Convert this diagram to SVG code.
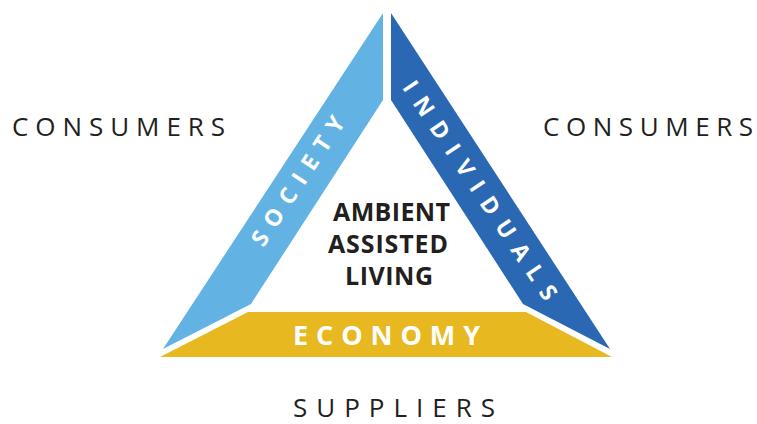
<svg xmlns="http://www.w3.org/2000/svg" width="757" height="424" viewBox="0 0 757 424">
<style>
.lbl{font-family:"Open Sans","Noto Sans","Liberation Sans",sans-serif;font-size:26px;fill:#231f20}
.bold{font-family:"Open Sans","Noto Sans","Liberation Sans",sans-serif;font-weight:bold}
.band{font-size:23px;fill:#ffffff}
.center{font-size:25px;fill:#231f20}
</style>
<rect width="757" height="424" fill="#ffffff"/>
<g id="society">
<polygon points="383,13 383,100 251,304 163,349" fill="#62b3e4"/>
<text class="bold band" transform="translate(298,181) rotate(-56.7)" x="0" y="8" text-anchor="middle" textLength="150" lengthAdjust="spacing">SOCIETY</text>
</g>
<g id="individuals">
<polygon points="391,13 391,100 523,304 610,349" fill="#2a68b3"/>
<text class="bold band" transform="translate(480,190.5) rotate(56.3)" x="0" y="8" text-anchor="middle" textLength="258" lengthAdjust="spacing">INDIVIDUALS</text>
</g>
<g id="economy">
<polygon points="248,312 526,312 612,357 160,357" fill="#e8b820"/>
<text class="bold" x="386.5" y="345" font-size="27" fill="#ffffff" text-anchor="middle" textLength="187" lengthAdjust="spacing">ECONOMY</text>
</g>
<g id="aal">
<text class="bold center" x="391.5" y="221" text-anchor="middle" textLength="117" lengthAdjust="spacing">AMBIENT</text>
<text class="bold center" x="388" y="253" text-anchor="middle" textLength="120" lengthAdjust="spacing">ASSISTED</text>
<text class="bold center" x="389" y="285" text-anchor="middle" textLength="88" lengthAdjust="spacing">LIVING</text>
</g>
<g id="consumers-left">
<text class="lbl" x="12" y="136" textLength="213" lengthAdjust="spacing">CONSUMERS</text>
</g>
<g id="consumers-right">
<text class="lbl" x="543" y="136" textLength="210" lengthAdjust="spacing">CONSUMERS</text>
</g>
<g id="suppliers">
<text class="lbl" x="293" y="417" font-size="23" textLength="202" lengthAdjust="spacing">SUPPLIERS</text>
</g>
<g id="connectors"></g>
</svg>
